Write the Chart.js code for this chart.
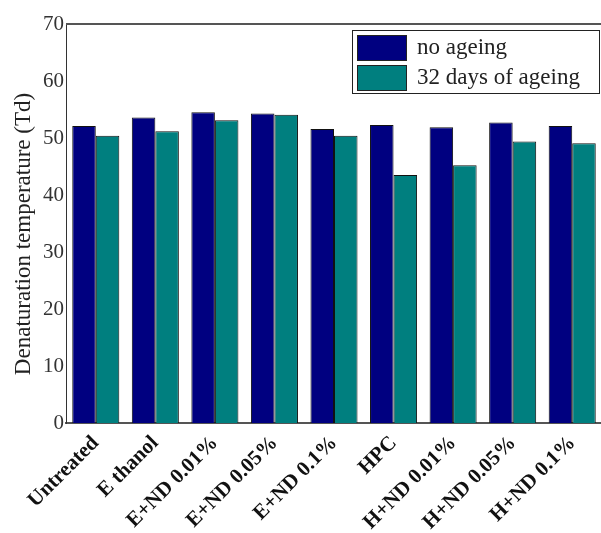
<!DOCTYPE html>
<html>
<head>
<meta charset="utf-8">
<script src="https://cdn.jsdelivr.net/npm/chart.js@4"></script>
<style>
  html, body { margin: 0; padding: 0; background: #fff; overflow: hidden; }
  #wrap { width: 604px; height: 533px; }
</style>
</head>
<body>
<div id="wrap"><canvas id="tdChart" width="604" height="533"></canvas></div>
<script>
// categories and values
var categories = ['Untreated', 'E thanol', 'E+ND 0.01%', 'E+ND 0.05%', 'E+ND 0.1%',
                  'HPC', 'H+ND 0.01%', 'H+ND 0.05%', 'H+ND 0.1%'];
var noAgeing = [52.1, 53.6, 54.5, 54.3, 51.6, 52.3, 51.9, 52.7, 52.1];
var aged32 = [50.4, 51.2, 53.1, 54.1, 50.4, 43.5, 45.2, 49.4, 49.1];
var yTicks = [0, 10, 20, 30, 40, 50, 60, 70];

var serif = '"Liberation Serif", "Times New Roman", serif';

// draws the frame top line, the boxed legend inside the plot and the y title
var extras = {
    id: 'extras',
    afterDraw: function(chart) {
        var c = chart.ctx, a = chart.chartArea;
        c.save();
        // top frame line
        c.strokeStyle = '#555';
        c.lineWidth = 2;
        c.beginPath();
        c.moveTo(a.left, a.top);
        c.lineTo(a.right, a.top);
        c.stroke();

        // legend box
        var bx = 352, by = 30, bw = 247, bh = 63;
        c.fillStyle = '#fff';
        c.fillRect(bx, by, bw, bh);
        c.strokeStyle = '#222';
        c.lineWidth = 1;
        c.strokeRect(bx + 0.5, by + 0.5, bw, bh);
        c.font = '23px ' + serif;
        c.textBaseline = 'middle';
        chart.data.datasets.forEach(function(ds, i) {
            var sy = 35 + i * 30;
            c.fillStyle = ds.backgroundColor;
            c.fillRect(357, sy, 49, 25);
            c.strokeStyle = '#222';
            c.strokeRect(357.5, sy + 0.5, 49, 25);
            c.fillStyle = '#222';
            c.fillText(ds.label, 417, sy + 13);
        });

        // y axis title
        c.translate(24, 234);
        c.rotate(-Math.PI / 2);
        c.textAlign = 'center';
        c.textBaseline = 'middle';
        c.fillStyle = '#222';
        c.font = '23px ' + serif;
        c.fillText('Denaturation temperature (Td)', 0, 0);
        c.restore();
    }
};

var ctx = document.getElementById('tdChart').getContext('2d');
var tdChart = new Chart(ctx, {
    type: 'bar',
    data: {
        labels: categories,
        datasets: [{
            label: 'no ageing',
            data: noAgeing,
            backgroundColor: '#000080',
            borderColor: '#111',
            borderWidth: 1
        }, {
            label: '32 days of ageing',
            data: aged32,
            backgroundColor: '#007f7f',
            borderColor: '#111',
            borderWidth: 1
        }]
    },
    options: {
        responsive: false,
        animation: false,
        layout: { padding: { top: 24, right: 2, left: 0, bottom: 0 } },
        datasets: {
            bar: { categoryPercentage: 0.79, barPercentage: 1.0 }
        },
        scales: {
            x: {
                grid: { display: false, drawTicks: false },
                border: { display: true, color: '#555', width: 2 },
                ticks: {
                    color: '#111',
                    autoSkip: false,
                    maxRotation: 45,
                    minRotation: 45,
                    padding: 8,
                    font: { family: serif, size: 21, weight: 'bold' }
                },
                afterFit: function(scale) { scale.height = 110; }
            },
            y: {
                min: 0,
                max: 70,
                afterBuildTicks: function(scale) {
                    scale.ticks = yTicks.map(function(v) { return { value: v }; });
                },
                grid: { display: false, drawTicks: false },
                border: { display: true, color: '#333', width: 1 },
                ticks: {
                    color: '#333',
                    padding: 2,
                    font: { family: serif, size: 21 }
                },
                afterFit: function(scale) { scale.width = 66; }
            }
        },
        plugins: {
            legend: { display: false },
            tooltip: { enabled: false }
        }
    },
    plugins: [extras]
});
</script>
</body>
</html>
